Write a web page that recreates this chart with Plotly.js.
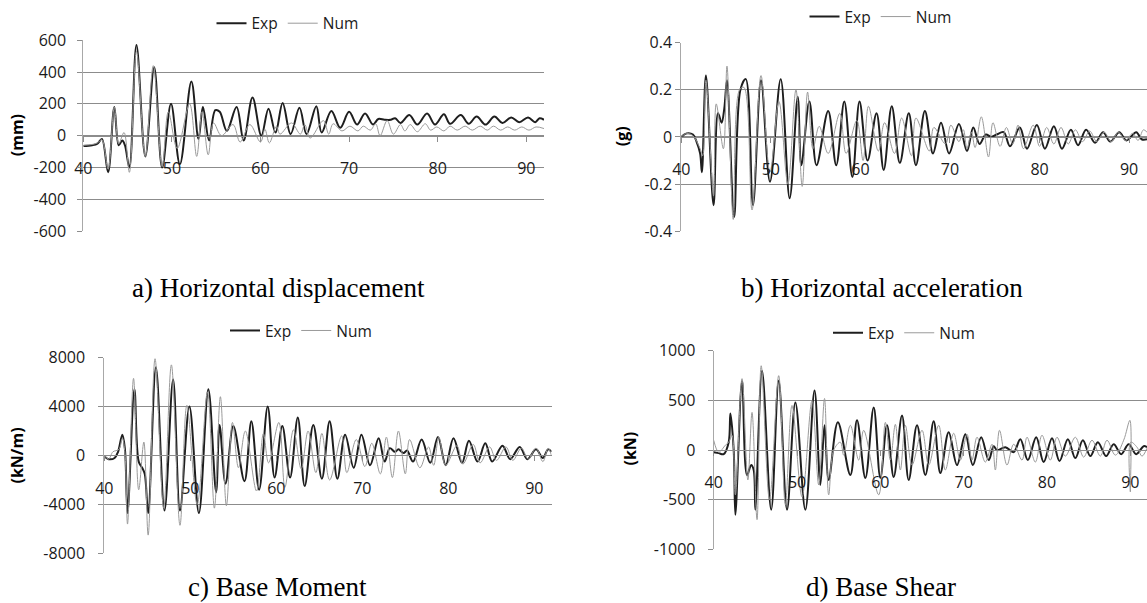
<!DOCTYPE html>
<html>
<head>
<meta charset="utf-8">
<script src="https://cdn.plot.ly/plotly-3.0.1.min.js"></script>
<style>html,body{margin:0;padding:0;background:#fff;}#chart{width:1147px;height:603px;}</style>
</head>
<body>
<div id="chart"></div>
<script>
// ---------- Data (time in s) ----------
const xTicks = [40, 50, 60, 70, 80, 90];
const seriesNames = ["Exp", "Num"];
const panelCaptions = ["a) Horizontal displacement", "b) Horizontal acceleration", "c) Base Moment", "d) Base Shear"];
const unitLabels = ["(mm)", "(g)", "(kN/m)", "(kN)"];

// y tick values per panel
const dispTicks  = [-600, -400, -200, 0, 200, 400, 600];
const accTicks   = [-0.4, -0.2, 0, 0.2, 0.4];
const momTicks   = [-8000, -4000, 0, 4000, 8000];
const shearTicks = [-1000, -500, 0, 500, 1000];

// a) Horizontal displacement (mm)
const dispExpT = [40,41,41.6,42.1,42.8,43.5,44.0,44.4,44.7,45.2,46.0,47.0,48.0,48.9,49.9,50.9,52.2,53.0,53.5,54.2,54.9,55.4,56.2,57.3,58.1,59.1,60.1,60.9,61.7,62.5,63.4,64.4,65.2,66.3,66.9,68.0,69.0,70.0,70.9,71.8,72.7,73.3,74.0,74.7,75.2,75.8,76.8,77.7,78.8,79.7,80.7,81.4,82.6,83.5,84.4,85.4,86.4,87.3,88.3,89.2,90.2,91.0,91.5,92.0];
const dispExp  = [-65,-60,-50,-20,-230,180,-60,-30,-60,-200,570,-130,430,-200,200,-180,340,-20,180,-30,160,150,30,180,-30,240,0,170,20,205,10,175,10,185,20,155,50,150,70,140,70,105,100,100,110,80,130,70,140,70,135,75,130,75,120,70,120,80,115,85,115,85,110,100];
const dispNumT = [40,41,41.6,42.1,42.8,43.5,44.0,44.6,45.2,46.0,47.0,47.9,48.9,49.6,50.6,52.0,52.8,53.4,54.1,54.7,55.6,56.9,57.7,58.8,60.0,60.5,61.0,61.8,62.2,63.5,64.5,65.0,65.6,67.1,67.7,68.2,69.2,70.1,71.0,71.6,72.4,73.0,73.5,74.3,75.0,75.8,76.3,76.9,77.7,78.6,79.2,79.9,80.7,81.4,82.2,83.1,83.9,84.8,85.6,86.3,87.1,87.9,88.7,89.5,90.3,91.1,92.0];
const dispNum  = [-60,-55,-45,-25,-210,180,-50,20,-230,530,-130,440,-195,150,-80,200,-130,150,-120,80,0,70,-40,70,-40,40,-45,60,10,80,10,70,-15,95,10,75,30,60,30,60,35,75,0,95,10,70,30,70,25,75,35,55,30,60,35,60,35,60,35,60,35,55,35,55,35,55,45];

// b) Horizontal acceleration (g)
const accExpT = [40,40.6,41.3,41.7,42.1,42.3,42.75,43.6,44.1,44.5,44.8,45.1,45.9,46.6,47.2,48.0,48.9,49.9,51.1,52.1,53.0,53.4,54.3,55.1,56.4,57.3,58.2,59.1,59.9,60.8,61.8,62.6,63.5,64.4,65.4,66.2,67.2,68.1,69.0,69.9,71.0,71.9,72.6,73.3,74.0,74.6,75.2,76.0,76.7,77.8,78.6,79.7,80.6,81.6,82.5,83.5,84.3,85.2,86.2,87.1,87.9,88.9,89.7,90.8,91.4,92.0];
const accExp  = [0,0.015,0.01,-0.02,-0.07,-0.15,0.26,-0.29,0.1,0.06,0.12,0.24,-0.34,0.2,0.245,-0.29,0.24,-0.19,0.245,-0.26,0.17,-0.12,0.15,-0.12,0.11,-0.12,0.15,-0.17,0.15,-0.1,0.1,-0.14,0.13,-0.11,0.1,-0.12,0.11,-0.07,0.06,-0.07,0.055,-0.06,0.04,-0.03,0.01,0.0,0.01,0.02,-0.04,0.04,-0.05,0.05,-0.05,0.045,-0.05,0.03,-0.035,0.03,-0.025,0.02,-0.02,0.02,-0.015,0.02,-0.01,-0.01];
const accNumT = [40,40.6,41.3,42.1,42.4,42.75,43.6,43.9,44.7,45.1,45.8,46.5,47.0,47.9,48.9,49.9,50.9,51.9,52.8,53.5,54.1,54.7,55.4,56.4,57.7,58.4,59.6,60.3,60.9,62.0,62.7,63.8,64.6,65.7,66.2,67.7,68.2,69.5,70.1,71.0,71.5,71.9,72.4,72.8,73.5,74.3,74.8,75.6,76.3,77.0,77.6,78.2,79.3,80.0,80.8,81.6,82.4,83.2,84.0,84.8,85.6,86.4,87.2,88.0,88.8,89.6,90.4,91.0,91.6,92.0];
const accNum  = [0,0.015,0.005,-0.05,-0.08,0.24,-0.25,0.14,-0.05,0.3,-0.35,0.2,0.21,-0.31,0.26,-0.15,0.15,-0.2,0.2,-0.21,0.19,-0.05,0.045,-0.07,0.1,-0.07,0.07,-0.1,0.13,-0.06,0.06,-0.07,0.08,-0.08,0.08,-0.06,0.04,-0.03,0.05,-0.02,0.03,-0.05,0.02,-0.045,0.085,-0.085,0.06,-0.04,0.04,-0.03,0.05,-0.05,0.05,-0.04,0.04,-0.03,0.04,-0.03,0.03,-0.02,0.025,-0.02,0.02,-0.02,0.02,-0.015,0.015,-0.015,0.03,0.02];

// c) Base moment (kN/m)
const momExpT = [40,40.5,41.2,41.6,42.1,42.4,42.7,43.5,44.0,44.4,44.7,45.1,46.0,47.0,48.0,48.8,49.9,51.0,52.1,53.0,53.4,54.1,55.0,56.3,57.1,58.0,59.0,59.8,60.7,61.6,62.5,63.3,64.3,65.3,66.2,67.1,68.0,69.0,69.9,70.9,71.9,72.6,73.2,73.8,74.2,74.8,75.2,75.9,76.9,77.9,78.8,79.7,80.6,81.6,82.4,83.4,84.3,85.1,86.3,87.2,88.3,89.2,90.2,91.0,91.6,92.0];
const momExp  = [-50,-300,-200,300,1700,500,-4700,5400,-500,-1000,-1500,-4700,7200,-4500,6200,-4500,4000,-4700,5400,-3000,2500,-2300,2400,-2100,2800,-2800,4000,-1800,2400,-1800,3100,-2500,2500,-1900,2800,-1900,1700,-1000,1700,-800,1400,-500,600,300,500,200,400,-500,1300,-600,1500,-800,1400,-600,1200,-500,1000,-500,800,-300,700,-300,500,-200,500,300];
const momNumT = [40,40.5,41.0,41.7,42.1,42.4,42.7,43.4,44.0,44.6,45.1,45.9,46.9,47.8,48.8,49.6,50.8,52.0,52.8,53.5,54.2,54.9,55.6,56.4,57.7,58.5,59.1,60.3,61.0,62.0,62.9,63.7,64.6,65.3,66.2,67.6,68.2,69.3,70.3,71.1,72.1,72.8,73.5,74.2,75.0,75.5,76.7,77.7,78.3,78.9,79.7,81.0,81.7,82.9,83.7,84.8,85.6,86.7,87.5,88.5,89.3,90.2,91.0,91.6,92.0];
const momNum  = [0,-300,300,500,1400,200,-5600,6300,-2800,1100,-6500,7900,-4300,7400,-5700,4100,-4000,5200,-4300,4800,-4100,2700,-1000,2000,-2900,1800,-600,2700,-2600,2100,-1100,2000,-1400,1800,-2000,1600,-1400,1300,-900,1000,-1500,1500,-1800,2000,-1500,1300,-1000,700,-800,1500,-800,800,-700,900,-600,700,-400,700,-400,600,-300,600,-500,600,0];

// d) Base shear (kN)
const shearExpT = [40,40.6,41.2,41.8,42.0,42.4,42.6,43.4,44.0,44.5,44.8,45.0,45.8,46.9,47.8,48.8,49.8,51.0,52.1,52.8,53.3,53.8,54.9,56.4,57.2,58.2,59.2,60.0,60.8,61.6,62.6,63.4,64.4,65.4,66.4,67.2,68.2,69.2,70.2,71.1,72.1,73.0,73.6,74.0,75.0,76.0,76.8,77.7,78.7,79.6,80.6,81.5,82.5,83.4,84.3,85.2,86.1,87.1,88.0,88.9,89.8,90.7,91.6,92.0];
const shearExp  = [-20,-30,-40,80,370,0,-650,700,-250,-150,-200,-600,800,-600,700,-600,480,-600,600,-350,250,-300,280,-250,300,-280,430,-280,250,-270,350,-300,250,-250,290,-230,180,-150,160,-150,130,-100,40,0,30,-20,110,-100,130,-120,120,-110,110,-80,100,-60,80,-60,60,-40,60,-40,40,30];
const shearNumT = [40,40.6,41.4,41.8,42.2,42.6,43.4,44.1,44.6,45.2,45.7,46.7,47.8,48.6,49.4,50.6,51.8,52.6,53.3,53.8,54.4,55.2,55.6,56.4,57.4,58.0,59.8,60.6,61.2,61.8,62.4,63.0,63.8,65.0,65.8,67.0,67.8,68.8,69.6,70.4,71.0,71.6,72.6,73.4,73.8,74.3,75.2,76.0,77.0,77.6,78.6,79.4,80.4,81.2,82.2,83.4,84.4,85.4,86.4,87.2,88.2,89.2,89.95,90.0,90.05,90.8,91.4,92.0];
const shearNum  = [100,-20,50,80,150,-450,720,-300,380,-700,850,-500,750,-550,450,-470,500,-350,520,-450,0,80,-50,250,-100,200,-450,280,-100,260,-200,250,-150,200,-150,250,-200,170,-100,160,-100,130,-120,60,-200,200,-150,60,-100,130,-120,150,-100,130,-60,130,-70,100,-60,100,-50,100,300,-420,80,30,-60,20];

const yTickSets = [dispTicks, accTicks, momTicks, shearTicks];

// ---------- Layout geometry ----------
const W = 1147, H = 603;
const boxes = [ // plot-area pixel boxes: left, right, top, bottom
  {l: 83.3, r: 544, t: 38.3, b: 230},
  {l: 681.3, r: 1147, t: 40.7, b: 230},
  {l: 104.3, r: 551.5, t: 356.7, b: 553.3},
  {l: 713.7, r: 1147, t: 350, b: 549.3}
];
const yStandoff = [8, 0, 10, 9];
const legendPos = [[287.5, 21.7], [880.5, 15], [301, 330], [904, 332.3]];
const captionPos = [[278, 287], [882, 287], [277.5, 603], [881, 603]];
const captionAnchor = ['middle', 'middle', 'bottom', 'bottom'];
const unitPos = [[16.7, 134], [621.7, 135], [17, 455], [630, 448]];

const pairs = [
  [dispExpT, dispExp, dispNumT, dispNum],
  [accExpT, accExp, accNumT, accNum],
  [momExpT, momExp, momNumT, momNum],
  [shearExpT, shearExp, shearNumT, shearNum]
];

const gridCol = '#8c8c8c';
const tickFont = {family: 'Open Sans, sans-serif', size: 16, color: '#1a1a1a'};
const traces = [];
const layout = {
  width: W, height: H, autosize: false,
  margin: {l: 0, r: 0, t: 0, b: 0},
  paper_bgcolor: '#fff', plot_bgcolor: 'rgba(0,0,0,0)',
  showlegend: true,
  annotations: []
};

for (let i = 0; i < 4; i++) {
  const n = i === 0 ? '' : String(i + 1);
  const bx = boxes[i];
  const xd = [bx.l / W, bx.r / W];
  const yd = [1 - bx.b / H, 1 - bx.t / H];
  const legName = 'legend' + n;
  const yt = yTickSets[i];
  traces.push({
    x: pairs[i][0], y: pairs[i][1], xaxis: 'x' + n, yaxis: 'y' + n,
    type: 'scatter', mode: 'lines', name: seriesNames[0], legend: legName,
    line: {color: '#1e1e1e', width: 2, shape: 'spline', smoothing: 1}
  });
  traces.push({
    x: pairs[i][2], y: pairs[i][3], xaxis: 'x' + n, yaxis: 'y' + n,
    type: 'scatter', mode: 'lines', name: seriesNames[1], legend: legName,
    line: {color: '#9a9a9a', width: 1, shape: 'spline', smoothing: 1}
  });
  layout['xaxis' + n] = {
    domain: xd, range: [40, 92], tickvals: xTicks, ticktext: xTicks.map(String),
    anchor: 'free', position: (yd[0] + yd[1]) / 2,
    showline: true, linecolor: gridCol, linewidth: 1,
    ticks: 'outside', ticklen: 5, tickcolor: gridCol,
    showgrid: false, zeroline: false, tickfont: tickFont, ticklabelstandoff: 13,
    fixedrange: true
  };
  layout['yaxis' + n] = {
    domain: yd, range: [yt[0], yt[yt.length - 1]],
    tickvals: yt, ticktext: yt.map(v => String(v)),
    anchor: 'x' + n, showline: true, linecolor: '#a8a8a8', linewidth: 1,
    ticks: 'outside', ticklen: 5, tickcolor: gridCol,
    showgrid: true, gridcolor: gridCol, gridwidth: 1, zeroline: false,
    tickfont: tickFont, ticklabelstandoff: yStandoff[i], fixedrange: true
  };
  layout[legName] = {
    orientation: 'h', x: legendPos[i][0] / W, y: 1 - legendPos[i][1] / H,
    xanchor: 'center', yanchor: 'middle', bgcolor: 'rgba(0,0,0,0)',
    font: {family: 'Open Sans, sans-serif', size: 15.5, color: '#1a1a1a'},
    itemwidth: 30, tracegroupgap: 0
  };
  layout.annotations.push({
    text: panelCaptions[i], xref: 'paper', yref: 'paper',
    x: captionPos[i][0] / W, y: 1 - captionPos[i][1] / H,
    xanchor: 'center', yanchor: captionAnchor[i], showarrow: false, borderpad: 0,
    font: {family: 'Liberation Serif, Times New Roman, serif', size: 27, color: '#000'}
  });
  layout.annotations.push({
    text: '<b>' + unitLabels[i] + '</b>', xref: 'paper', yref: 'paper',
    x: unitPos[i][0] / W, y: 1 - unitPos[i][1] / H, textangle: -90,
    xanchor: 'center', yanchor: 'middle', showarrow: false,
    font: {family: 'Open Sans, sans-serif', size: 16, color: '#000'}
  });
}

Plotly.newPlot('chart', traces, layout, {staticPlot: true, displayModeBar: false});
</script>
</body>
</html>
